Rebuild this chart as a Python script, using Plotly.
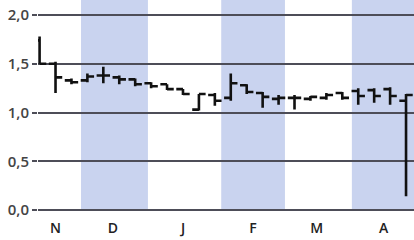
import plotly.graph_objects as go

# Weekly bars (Wednesdays)
dates = ["2012-11-14", "2012-11-21", "2012-11-28", "2012-12-05", "2012-12-12", "2012-12-19",
         "2012-12-26", "2013-01-02", "2013-01-09", "2013-01-16", "2013-01-23", "2013-01-30",
         "2013-02-06", "2013-02-13", "2013-02-20", "2013-02-27", "2013-03-06", "2013-03-13",
         "2013-03-20", "2013-03-27", "2013-04-03", "2013-04-10", "2013-04-17", "2013-04-24"]
open_ = [1.74, 1.50, 1.33, 1.33, 1.38, 1.36, 1.34, 1.30, 1.29, 1.24, 1.03, 1.18,
         1.15, 1.28, 1.20, 1.14, 1.15, 1.14, 1.15, 1.20, 1.22, 1.23, 1.24, 1.12]
high = [1.78, 1.52, 1.35, 1.40, 1.47, 1.38, 1.35, 1.31, 1.29, 1.24, 1.19, 1.20,
        1.40, 1.29, 1.21, 1.18, 1.18, 1.17, 1.20, 1.21, 1.25, 1.25, 1.26, 1.19]
low = [1.50, 1.20, 1.29, 1.31, 1.30, 1.29, 1.27, 1.25, 1.23, 1.18, 1.02, 1.07,
       1.12, 1.19, 1.05, 1.08, 1.03, 1.12, 1.13, 1.13, 1.08, 1.10, 1.08, 0.14]
close = [1.50, 1.36, 1.31, 1.37, 1.38, 1.34, 1.29, 1.27, 1.24, 1.19, 1.19, 1.12,
         1.30, 1.21, 1.16, 1.15, 1.15, 1.16, 1.18, 1.15, 1.17, 1.17, 1.17, 1.18]

# Month labels
month_ticks = ["2012-11-21", "2012-12-17", "2013-01-16", "2013-02-15", "2013-03-15", "2013-04-15"]
month_labels = ["N", "D", "J", "F", "M", "A"]

# Shaded months
shaded_months = [("2012-12-01", "2013-01-01"), ("2013-02-01", "2013-03-01"), ("2013-04-01", "2013-05-01")]

y_ticks = [0.0, 0.5, 1.0, 1.5, 2.0]

BAND = "#c9d3ef"
GRID = "#4d4d58"
TEXT = "#3a3a3a"

fig = go.Figure()
fig.add_trace(go.Ohlc(
    x=dates, open=open_, high=high, low=low, close=close,
    increasing=dict(line=dict(color="#111111", width=2.6)),
    decreasing=dict(line=dict(color="#111111", width=2.6)),
    tickwidth=0.3, hoverinfo="skip", showlegend=False,
))

for x0, x1 in shaded_months:
    fig.add_shape(type="rect", xref="x", yref="y", x0=x0, x1=x1, y0=0, y1=2.2,
                  fillcolor=BAND, line=dict(width=0), layer="below")

fig.update_layout(
    width=414, height=240,
    margin=dict(l=38, r=0, t=0, b=28),
    paper_bgcolor="white", plot_bgcolor="white",
    separators=",.",
    font=dict(family="Open Sans", size=15, color=TEXT),
    showlegend=False,
)
fig.update_xaxes(
    type="date",
    range=["2012-11-13 12:00", "2013-04-26 12:00"],
    rangebreaks=[dict(bounds=["sat", "mon"])],
    rangeslider=dict(visible=False),
    tickmode="array", tickvals=month_ticks, ticktext=month_labels,
    showgrid=False, zeroline=False, showline=False, ticks="",
    tickfont=dict(family="Open Sans", size=14, color="#222222", weight=600),
    ticklabelstandoff=6,
)
fig.update_yaxes(
    range=[-0.0205, 2.154],
    tickmode="array", tickvals=y_ticks, tickformat=".1f",
    showgrid=True, gridcolor=GRID, gridwidth=1.6,
    zeroline=False, showline=False,
    ticks="outside", ticklen=5, tickwidth=1.6, tickcolor=GRID,
    tickfont=dict(family="Open Sans", size=15, color="#444444", weight=600),
)

fig.write_html("out.html", config={"displayModeBar": False},
               post_script="document.body.style.margin='0';document.body.style.padding='0';")
